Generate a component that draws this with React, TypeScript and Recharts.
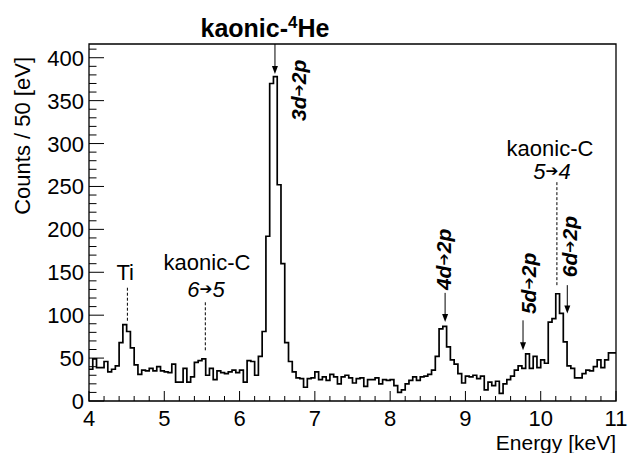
import React from "react";
import { LineChart, Line, XAxis, YAxis, ReferenceArea, ReferenceLine, ReferenceDot } from "recharts";

// histogram: 50 eV bins from 4 to 11 keV
const binLow = 4;
const binWidth = 0.05;
const counts = [
  37, 49, 39, 39, 46, 34, 37, 41, 68, 89, 81, 62, 42, 31, 36, 35, 38, 35, 40, 35,
  34, 33, 43, 22, 22, 38, 22, 28, 45, 47, 49, 30, 38, 25, 35, 33, 32, 34, 36, 33,
  36, 22, 47, 46, 30, 52, 81, 192, 370, 378, 252, 160, 68, 46, 34, 27, 26, 16, 26, 27,
  34, 25, 28, 24, 31, 28, 20, 28, 30, 27, 21, 26, 27, 17, 25, 25, 27, 20, 25, 24,
  25, 18, 10, 13, 20, 24, 28, 24, 28, 29, 31, 36, 52, 84, 87, 63, 48, 43, 32, 21,
  29, 28, 30, 26, 29, 13, 22, 18, 23, 9, 20, 25, 29, 36, 41, 38, 55, 38, 52, 39,
  48, 44, 92, 96, 125, 102, 69, 41, 38, 27, 27, 32, 36, 35, 40, 48, 39, 48, 56, 56,
];

const xMajor = [4, 5, 6, 7, 8, 9, 10, 11];
const yMajor = [0, 50, 100, 150, 200, 250, 300, 350, 400];
const yMax = 416;

const data = counts.map((c, i) => ({ e: +(binLow + i * binWidth).toFixed(2), c }));
data.push({ e: 11, c: counts[counts.length - 1] });

const xTicks = Array.from({ length: 36 }, (_, i) => +(4 + i * 0.2).toFixed(1));
const yTicks = Array.from({ length: 42 }, (_, i) => i * 10);

const font = "'Liberation Sans', Arial, Helvetica, sans-serif";
const ARROW = "\u2794";

function XTick({ x, y, payload }: any) {
  const major = xMajor.includes(payload.value);
  return (
    <g>
      <line x1={x} x2={x} y1={y} y2={y - (major ? 10 : 5)} stroke="#000" />
      {major && (
        <text x={x} y={y + 25} textAnchor="middle" fontSize={22} fontFamily={font} fill="#000">
          {payload.value}
        </text>
      )}
    </g>
  );
}

function YTick({ x, y, payload }: any) {
  const major = yMajor.includes(payload.value);
  return (
    <g>
      <line x1={x} x2={x + (major ? 15 : 7.5)} y1={y} y2={y} stroke="#000" />
      {major && (
        <text x={x - 5} y={y + 8} textAnchor="end" fontSize={22} fontFamily={font} fill="#000">
          {payload.value}
        </text>
      )}
    </g>
  );
}

const label = (parts: string[], opts: { rot?: boolean; bold?: boolean; italic?: boolean; size?: number } = {}) =>
  (p: any) => {
    const size = opts.size ?? 22;
    return (
      <text
        x={p.cx}
        y={p.cy}
        transform={opts.rot ? `rotate(-90 ${p.cx} ${p.cy})` : undefined}
        textAnchor="middle"
        dominantBaseline="central"
        fontSize={size}
        fontFamily={font}
        fontWeight={opts.bold ? "bold" : "normal"}
        fontStyle={opts.italic ? "italic" : "normal"}
        fill="#000"
      >
        {parts.map((s, i) =>
          s === ARROW ? (
            <tspan key={i} fontFamily="'DejaVu Sans', sans-serif" fontStyle="normal" fontSize={size * 0.7}>
              {s}
            </tspan>
          ) : (
            <tspan key={i}>{s}</tspan>
          )
        )}
      </text>
    );
  };

const arrow = (p: any) => (
  <g>
    <line x1={p.x1} y1={p.y1} x2={p.x2} y2={p.y2 - 6} stroke="#000" strokeWidth={1} />
    <polygon points={`${p.x2 - 3},${p.y2 - 8} ${p.x2 + 3},${p.y2 - 8} ${p.x2},${p.y2}`} fill="#000" />
  </g>
);

const trans = (a: string, b: string, opts: any) => label([a, ARROW, b], opts);
const bi = { rot: true, bold: true, italic: true, size: 21 };

export default function App() {
  return (
    <div style={{ position: "absolute", left: 0, top: 0, width: 641, height: 453, background: "#fff" }}>
      <LineChart width={641} height={453} data={data} margin={{ top: 44, right: 25, bottom: 51, left: 88 }}>
        <XAxis
          dataKey="e"
          type="number"
          domain={[4, 11]}
          ticks={xTicks}
          interval={0}
          height={1}
          axisLine={false}
          tickLine={false}
          tickSize={0}
          tickMargin={0}
          tick={(p: any) => <XTick {...p} />}
        />
        <YAxis
          type="number"
          domain={[0, yMax]}
          ticks={yTicks}
          interval={0}
          width={1}
          axisLine={false}
          tickLine={false}
          tickSize={0}
          tickMargin={0}
          tick={(p: any) => <YTick {...p} />}
          allowDataOverflow
        />
        <Line
          type="stepAfter"
          dataKey="c"
          stroke="#000"
          strokeWidth={1.7}
          dot={false}
          isAnimationActive={false}
        />
        <ReferenceArea x1={4} x2={11} y1={0} y2={yMax} fill="none" stroke="#000" strokeWidth={1.3} />

        {/* Ti */}
        <ReferenceLine segment={[{ x: 4.51, y: 132 }, { x: 4.51, y: 93 }]} stroke="#000" strokeDasharray="3 2" />
        <ReferenceDot x={4.48} y={150} shape={label(["Ti"])} />

        {/* kaonic-C 6->5 */}
        <ReferenceLine segment={[{ x: 5.545, y: 115 }, { x: 5.545, y: 57 }]} stroke="#000" strokeDasharray="3 2" />
        <ReferenceDot x={5.567} y={162} shape={label(["kaonic-C"])} />
        <ReferenceDot x={5.555} y={130} shape={trans("6", "5", { italic: true })} />

        {/* kaonic-He lines */}
        <ReferenceLine segment={[{ x: 6.47, y: yMax }, { x: 6.47, y: 381 }]} shape={arrow} />
        <ReferenceDot x={6.776} y={362} shape={trans("3d", "2p", bi)} />

        <ReferenceLine segment={[{ x: 8.73, y: 126 }, { x: 8.73, y: 92 }]} shape={arrow} />
        <ReferenceDot x={8.70} y={165} shape={trans("4d", "2p", bi)} />

        <ReferenceLine segment={[{ x: 9.765, y: 94 }, { x: 9.765, y: 59 }]} shape={arrow} />
        <ReferenceDot x={9.83} y={137} shape={trans("5d", "2p", bi)} />

        <ReferenceLine segment={[{ x: 10.353, y: 135 }, { x: 10.353, y: 102 }]} shape={arrow} />
        <ReferenceDot x={10.37} y={180} shape={trans("6d", "2p", bi)} />

        {/* kaonic-C 5->4 */}
        <ReferenceLine segment={[{ x: 10.215, y: 255 }, { x: 10.215, y: 133 }]} stroke="#000" strokeDasharray="3 2" />
        <ReferenceDot x={10.123} y={295} shape={label(["kaonic-C"])} />
        <ReferenceDot x={10.15} y={268} shape={trans("5", "4", { italic: true })} />
      </LineChart>

      <svg width={641} height={453} style={{ position: "absolute", left: 0, top: 0, pointerEvents: "none" }}>
        <text x={265} y={37} textAnchor="middle" fontSize={25} fontWeight="bold" fontFamily={font} fill="#000">
          kaonic-
          <tspan fontSize={17} dy={-9}>4</tspan>
          <tspan dy={9}>He</tspan>
        </text>
        <text
          x={30}
          y={57}
          transform="rotate(-90 30 57)"
          textAnchor="end"
          fontSize={22}
          fontFamily={font}
          fill="#000"
        >
          Counts / 50 [eV]
        </text>
        <text x={616} y={450} textAnchor="end" fontSize={21} fontFamily={font} fill="#000">
          Energy [keV]
        </text>
      </svg>
    </div>
  );
}
